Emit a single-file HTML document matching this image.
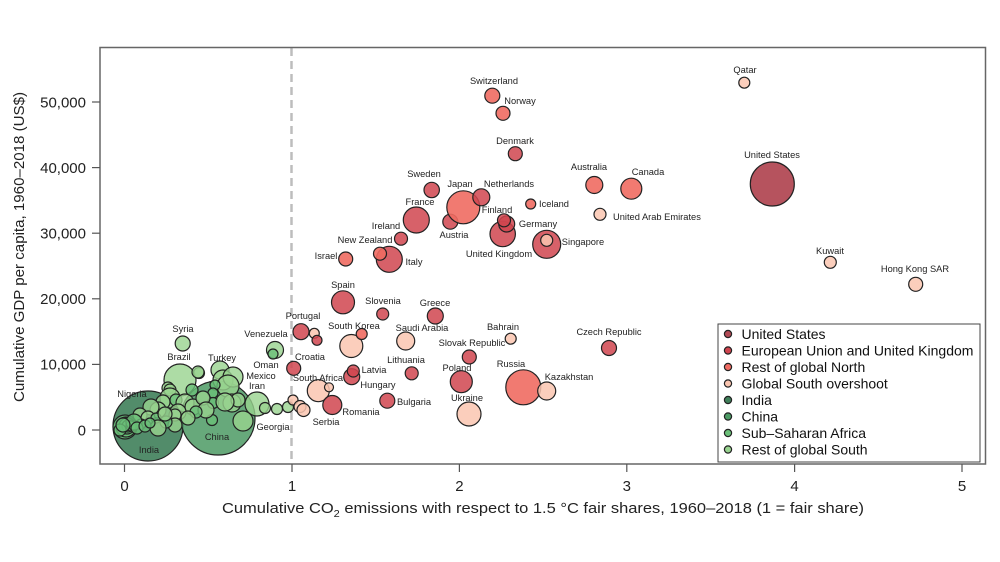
<!DOCTYPE html>
<html><head><meta charset="utf-8"><style>
html,body{margin:0;padding:0;background:#fff;}
svg{display:block;font-family:"Liberation Sans",sans-serif;}
.l{font-size:9.3px;fill:#222;text-anchor:middle;}
.t{font-size:15px;fill:#222;}
.lg{font-size:14px;fill:#111;}
circle{stroke:#222;stroke-width:1.2;}
.us{fill:#b24a55;fill-opacity:.95}
.eu{fill:#d0454f;fill-opacity:.85}
.no{fill:#ef6b62;fill-opacity:.9}
.gs{fill:#fac5b0;fill-opacity:.85}
.in{fill:#3f7f5a;fill-opacity:.9}
.cn{fill:#4c9a64;fill-opacity:.85}
.ss{fill:#6abf78;fill-opacity:.8}
.rs{fill:#98d38f;fill-opacity:.8}
</style></head><body>
<svg width="1000" height="562" viewBox="0 0 1000 562" xmlns="http://www.w3.org/2000/svg">
<rect width="1000" height="562" fill="#fff"/>
<line x1="291.5" y1="48" x2="291.5" y2="463" stroke="#bdbdbd" stroke-width="2.5" stroke-dasharray="8,5"/>

<circle class="in" cx="148" cy="426" r="35"/>
<circle class="cn" cx="218" cy="418" r="37"/>
<circle class="rs" cx="180" cy="380" r="16"/>
<circle class="rs" cx="182.7" cy="343.5" r="7.5"/>
<circle class="rs" cx="275" cy="350" r="8.5"/>
<circle class="ss" cx="273" cy="354" r="5"/>
<circle class="rs" cx="199" cy="373" r="5.5"/>
<circle class="rs" cx="220" cy="370" r="9"/>
<circle class="rs" cx="223" cy="380" r="10"/>
<circle class="rs" cx="233" cy="377" r="10"/>
<circle class="rs" cx="228" cy="386" r="11"/>
<circle class="ss" cx="215" cy="385" r="5"/>
<circle class="ss" cx="213" cy="393" r="5"/>
<circle class="ss" cx="213" cy="403" r="5.5"/>
<circle class="rs" cx="232" cy="403" r="9"/>
<circle class="rs" cx="238" cy="400" r="7"/>
<circle class="rs" cx="225" cy="402" r="9"/>
<circle class="ss" cx="212" cy="420" r="5.5"/>
<circle class="rs" cx="243" cy="421" r="10"/>
<circle class="rs" cx="257" cy="404" r="12"/>
<circle class="rs" cx="265" cy="408" r="5.5"/>
<circle class="rs" cx="277" cy="409" r="5.5"/>
<circle class="rs" cx="288" cy="407" r="5.5"/>
<circle class="rs" cx="198" cy="372" r="6"/>
<circle class="ss" cx="192" cy="390" r="6"/>
<circle class="rs" cx="168" cy="388" r="6"/>
<circle class="rs" cx="170" cy="390" r="6"/>
<circle class="rs" cx="170" cy="398" r="10"/>
<circle class="ss" cx="176" cy="400" r="6"/>
<circle class="rs" cx="185" cy="403" r="9"/>
<circle class="rs" cx="193" cy="407" r="8"/>
<circle class="rs" cx="203" cy="398" r="7"/>
<circle class="rs" cx="206" cy="410" r="8"/>
<circle class="ss" cx="196" cy="412" r="6"/>
<circle class="rs" cx="178" cy="412" r="8"/>
<circle class="rs" cx="188" cy="418" r="7"/>
<circle class="rs" cx="175" cy="415" r="6"/>
<circle class="rs" cx="175" cy="425" r="7"/>
<circle class="ss" cx="166" cy="422" r="6"/>
<circle class="rs" cx="163" cy="402" r="7"/>
<circle class="rs" cx="158" cy="410" r="8"/>
<circle class="rs" cx="151" cy="407" r="8"/>
<circle class="rs" cx="140" cy="415" r="7"/>
<circle class="rs" cx="148" cy="418" r="7"/>
<circle class="ss" cx="156" cy="418" r="5"/>
<circle class="rs" cx="158" cy="428" r="8"/>
<circle class="rs" cx="165" cy="414" r="7"/>
<circle class="ss" cx="141" cy="424" r="5"/>
<circle class="ss" cx="125" cy="427" r="12"/>
<circle class="ss" cx="126" cy="427" r="10"/>
<circle class="ss" cx="127" cy="426" r="8"/>
<circle class="ss" cx="128" cy="426" r="6"/>
<circle class="ss" cx="131" cy="426" r="5"/>
<circle class="ss" cx="134" cy="422" r="8"/>
<circle class="ss" cx="137" cy="428" r="6"/>
<circle class="ss" cx="120" cy="430" r="6"/>
<circle class="ss" cx="123" cy="425" r="7"/>
<circle class="ss" cx="145" cy="426" r="6"/>
<circle class="ss" cx="150" cy="423" r="5"/>

<circle class="gs" cx="293" cy="400" r="5"/>
<circle class="gs" cx="300" cy="406.5" r="6"/>
<circle class="gs" cx="303.5" cy="410" r="6.5"/>

<circle class="gs" cx="318.3" cy="390.7" r="11"/>
<circle class="gs" cx="329" cy="387.3" r="4.5"/>
<circle class="eu" cx="332.3" cy="405" r="9.5"/>
<circle class="eu" cx="293.7" cy="368.3" r="7"/>
<circle class="eu" cx="301" cy="331.7" r="8"/>
<circle class="gs" cx="314.3" cy="333.3" r="5"/>
<circle class="eu" cx="317" cy="340.3" r="5"/>
<circle class="gs" cx="351.3" cy="346" r="11.5"/>
<circle class="no" cx="361.7" cy="334" r="5.5"/>
<circle class="eu" cx="343" cy="302.3" r="11.5"/>
<circle class="eu" cx="382.7" cy="314" r="6"/>
<circle class="eu" cx="435.3" cy="316" r="8"/>
<circle class="gs" cx="405.7" cy="341" r="9"/>
<circle class="gs" cx="510.7" cy="338.7" r="5.5"/>
<circle class="eu" cx="469.3" cy="357" r="7"/>
<circle class="eu" cx="609" cy="348" r="7.5"/>
<circle class="eu" cx="351.7" cy="376.7" r="8"/>
<circle class="eu" cx="353.3" cy="371" r="6"/>
<circle class="eu" cx="411.7" cy="373.3" r="6.5"/>
<circle class="eu" cx="461.3" cy="381.7" r="11"/>
<circle class="no" cx="523.3" cy="387.3" r="17.5"/>
<circle class="gs" cx="546.7" cy="391" r="9"/>
<circle class="eu" cx="387.3" cy="400.7" r="7.5"/>
<circle class="gs" cx="469" cy="414" r="12"/>

<circle class="no" cx="345.7" cy="259" r="7"/>
<circle class="eu" cx="389.3" cy="259.3" r="13"/>
<circle class="no" cx="380" cy="253.7" r="6.5"/>
<circle class="eu" cx="401" cy="238.7" r="6.5"/>
<circle class="eu" cx="416.3" cy="220" r="13"/>
<circle class="eu" cx="431.7" cy="190" r="7.7"/>
<circle class="eu" cx="450.3" cy="221.7" r="7.5"/>
<circle class="no" cx="463.3" cy="207.3" r="16.5"/>
<circle class="eu" cx="481.3" cy="197.3" r="8.5"/>
<circle class="eu" cx="502.7" cy="234" r="12.7"/>
<circle class="eu" cx="506.7" cy="224" r="8"/>
<circle class="eu" cx="504" cy="220.3" r="6.5"/>
<circle class="no" cx="530.7" cy="204" r="5"/>
<circle class="eu" cx="546.7" cy="244.3" r="14"/>
<circle class="gs" cx="546.7" cy="240.3" r="6"/>
<circle class="no" cx="594.3" cy="185" r="8.5"/>
<circle class="gs" cx="600" cy="214.3" r="6"/>
<circle class="no" cx="631.3" cy="188.7" r="10.5"/>
<circle class="no" cx="492.3" cy="95.7" r="7.5"/>
<circle class="no" cx="503" cy="113.3" r="7"/>
<circle class="eu" cx="515.3" cy="153.7" r="7"/>
<circle class="gs" cx="744.3" cy="82.7" r="5.5"/>
<circle class="us" cx="772.3" cy="184" r="22"/>
<circle class="gs" cx="830.3" cy="262.3" r="6"/>
<circle class="gs" cx="915.7" cy="284.3" r="7"/>

<g class="l">
<text x="745" y="73">Qatar</text>
<text x="772" y="158">United States</text>
<text x="648" y="175">Canada</text>
<text x="613" y="220" style="text-anchor:start">United Arab Emirates</text>
<text x="830" y="254">Kuwait</text>
<text x="915" y="272">Hong Kong SAR</text>
<text x="494" y="84">Switzerland</text>
<text x="520" y="104">Norway</text>
<text x="515" y="144">Denmark</text>
<text x="589" y="170">Australia</text>
<text x="424" y="177">Sweden</text>
<text x="460" y="187">Japan</text>
<text x="509" y="187">Netherlands</text>
<text x="420" y="205">France</text>
<text x="497" y="213">Finland</text>
<text x="554" y="207">Iceland</text>
<text x="454" y="238">Austria</text>
<text x="538" y="227">Germany</text>
<text x="499" y="257">United Kingdom</text>
<text x="583" y="245">Singapore</text>
<text x="386" y="229">Ireland</text>
<text x="365" y="243">New Zealand</text>
<text x="414" y="265">Italy</text>
<text x="326" y="259">Israel</text>
<text x="343" y="288">Spain</text>
<text x="383" y="304">Slovenia</text>
<text x="435" y="306">Greece</text>
<text x="303" y="319">Portugal</text>
<text x="354" y="329">South Korea</text>
<text x="422" y="331">Saudi Arabia</text>
<text x="503" y="330">Bahrain</text>
<text x="472" y="346">Slovak Republic</text>
<text x="609" y="335">Czech Republic</text>
<text x="310" y="360">Croatia</text>
<text x="374" y="373">Latvia</text>
<text x="406" y="363">Lithuania</text>
<text x="378" y="388">Hungary</text>
<text x="457" y="371">Poland</text>
<text x="511" y="367">Russia</text>
<text x="569" y="380">Kazakhstan</text>
<text x="318" y="381">South Africa</text>
<text x="361" y="415">Romania</text>
<text x="414" y="405">Bulgaria</text>
<text x="467" y="401">Ukraine</text>
<text x="326" y="425">Serbia</text>
<text x="183" y="332">Syria</text>
<text x="179" y="360">Brazil</text>
<text x="222" y="361">Turkey</text>
<text x="266" y="337">Venezuela</text>
<text x="266" y="368">Oman</text>
<text x="261" y="379">Mexico</text>
<text x="257" y="389">Iran</text>
<text x="273" y="430">Georgia</text>
<text x="132" y="397">Nigeria</text>
<text x="149" y="453">India</text>
<text x="217" y="440">China</text>
</g>

<rect x="100" y="47.5" width="885.5" height="416.5" fill="none" stroke="#666" stroke-width="1.5"/>

<g stroke="#555" stroke-width="1.2">
<line x1="92" y1="102" x2="100" y2="102"/>
<line x1="92" y1="167.6" x2="100" y2="167.6"/>
<line x1="92" y1="233.2" x2="100" y2="233.2"/>
<line x1="92" y1="298.8" x2="100" y2="298.8"/>
<line x1="92" y1="364.4" x2="100" y2="364.4"/>
<line x1="92" y1="430" x2="100" y2="430"/>
<line x1="124.5" y1="464" x2="124.5" y2="472"/>
<line x1="292" y1="464" x2="292" y2="472"/>
<line x1="459.4" y1="464" x2="459.4" y2="472"/>
<line x1="626.8" y1="464" x2="626.8" y2="472"/>
<line x1="794.6" y1="464" x2="794.6" y2="472"/>
<line x1="962" y1="464" x2="962" y2="472"/>
</g>
<g class="t" text-anchor="end">
<text x="86" y="107.5">50,000</text>
<text x="86" y="173">40,000</text>
<text x="86" y="238.5">30,000</text>
<text x="86" y="304">20,000</text>
<text x="86" y="369.5">10,000</text>
<text x="86" y="435.5">0</text>
</g>
<g class="t" text-anchor="middle">
<text x="124.5" y="491">0</text>
<text x="292" y="491">1</text>
<text x="459.4" y="491">2</text>
<text x="626.8" y="491">3</text>
<text x="794.6" y="491">4</text>
<text x="962" y="491">5</text>
</g>
<text class="t" x="222" y="513" textLength="642" lengthAdjust="spacingAndGlyphs">Cumulative CO<tspan font-size="10" dy="4">2</tspan><tspan dy="-4"> emissions with respect to 1.5 °C fair shares, 1960–2018 (1 = fair share)</tspan></text>
<text class="t" transform="translate(24,402) rotate(-90)" x="0" y="0" textLength="310" lengthAdjust="spacingAndGlyphs">Cumulative GDP per capita, 1960–2018 (US$)</text>

<rect x="718" y="324" width="262" height="138" fill="#fff" stroke="#444" stroke-width="1"/>
<g stroke="#333" stroke-width="1">
<circle cx="728" cy="334" r="3.6" fill="#b24a55"/>
<circle cx="728" cy="350.5" r="3.6" fill="#d0454f"/>
<circle cx="728" cy="367" r="3.6" fill="#ef6b62"/>
<circle cx="728" cy="383.5" r="3.6" fill="#fac5b0"/>
<circle cx="728" cy="400" r="3.6" fill="#3f7f5a"/>
<circle cx="728" cy="416.5" r="3.6" fill="#4c9a64"/>
<circle cx="728" cy="433" r="3.6" fill="#6abf78"/>
<circle cx="728" cy="449.5" r="3.6" fill="#98d38f"/>
</g>
<g class="lg">
<text x="741.5" y="339">United States</text>
<text x="741.5" y="355.5">European Union and United Kingdom</text>
<text x="741.5" y="372">Rest of global North</text>
<text x="741.5" y="388.5">Global South overshoot</text>
<text x="741.5" y="405">India</text>
<text x="741.5" y="421.5">China</text>
<text x="741.5" y="438">Sub–Saharan Africa</text>
<text x="741.5" y="454.5">Rest of global South</text>
</g>
</svg>
</body></html>
